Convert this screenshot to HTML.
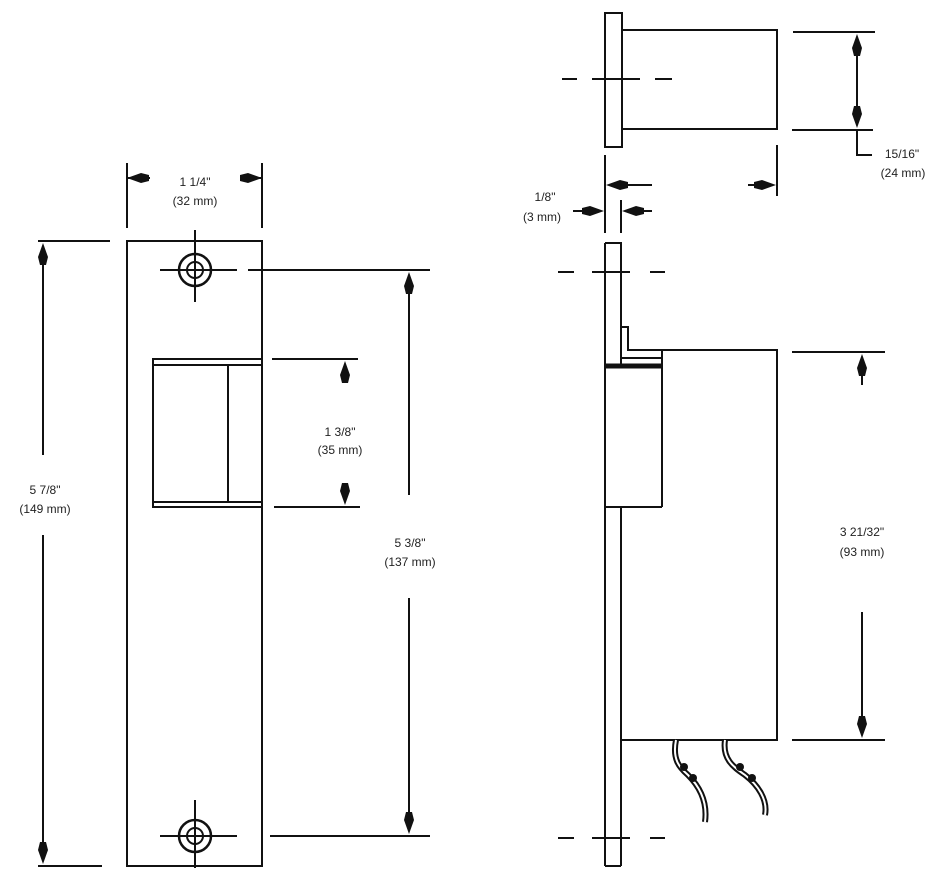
<!DOCTYPE html>
<html><head><style>body{margin:0;background:#fff}svg{display:block}text{font-family:"Liberation Sans",sans-serif;font-size:12px;fill:#222;text-anchor:middle}</style></head>
<body>
<svg width="932" height="883" viewBox="0 0 932 883" xmlns="http://www.w3.org/2000/svg">
<defs>
<path id="ah" d="M0,0 L-5,14 L-3,22 L3,22 L5,14 Z" fill="#111"/>
</defs>
<g stroke="#111" stroke-width="2" fill="none">
<!-- Left plate -->
<rect x="127" y="241" width="135" height="625"/>
<rect x="153" y="359" width="109" height="148"/>
<line x1="153" y1="365" x2="262" y2="365"/><line x1="153" y1="502" x2="262" y2="502"/>
<line x1="228" y1="365" x2="228" y2="502"/>
<circle cx="195" cy="270" r="16" stroke-width="2.5"/><circle cx="195" cy="270" r="8"/>
<circle cx="195" cy="836" r="16" stroke-width="2.5"/><circle cx="195" cy="836" r="8"/>
<line x1="195" y1="230" x2="195" y2="302"/><line x1="160" y1="270" x2="237" y2="270"/>
<line x1="195" y1="800" x2="195" y2="868"/><line x1="160" y1="836" x2="237" y2="836"/>
<!-- 1 1/4 -->
<line x1="127" y1="163" x2="127" y2="228"/><line x1="262" y1="163" x2="262" y2="228"/>
<line x1="127" y1="178" x2="150" y2="178"/><line x1="240" y1="178" x2="262" y2="178"/>
<!-- 5 7/8 -->
<line x1="38" y1="241" x2="110" y2="241"/><line x1="38" y1="866" x2="102" y2="866"/>
<line x1="43" y1="255" x2="43" y2="455"/>
<line x1="43" y1="535" x2="43" y2="850"/>
<!-- 1 3/8 -->
<line x1="272" y1="359" x2="358" y2="359"/><line x1="274" y1="507" x2="360" y2="507"/>
<!-- 5 3/8 -->
<line x1="248" y1="270" x2="430" y2="270"/><line x1="270" y1="836" x2="430" y2="836"/>
<line x1="409" y1="285" x2="409" y2="495"/>
<line x1="409" y1="598" x2="409" y2="820"/>
<!-- Right top pin -->
<rect x="605" y="13" width="17" height="134"/>
<rect x="622" y="30" width="155" height="99"/>
<line x1="562" y1="79" x2="577" y2="79"/><line x1="592" y1="79" x2="640" y2="79"/><line x1="655" y1="79" x2="672" y2="79"/>
<!-- 15/16 -->
<line x1="793" y1="32" x2="875" y2="32"/><line x1="792" y1="130" x2="873" y2="130"/>
<line x1="857" y1="40" x2="857" y2="122"/>
<polyline points="857,130 857,155 872,155"/>
<!-- 1/8 -->
<line x1="605" y1="155" x2="605" y2="233"/><line x1="621" y1="200" x2="621" y2="233"/>
<line x1="777" y1="145" x2="777" y2="196"/>
<line x1="620" y1="185" x2="652" y2="185"/>
<line x1="748" y1="185" x2="760" y2="185"/>
<line x1="573" y1="211" x2="590" y2="211"/>
<line x1="636" y1="211" x2="652" y2="211"/>
<!-- Lower side view -->
<line x1="605" y1="243" x2="605" y2="866"/>
<polyline points="605,243 621,243 621,365"/>
<line x1="621" y1="507" x2="621" y2="866"/>
<line x1="605" y1="866" x2="621" y2="866"/>
<line x1="558" y1="272" x2="574" y2="272"/><line x1="592" y1="272" x2="630" y2="272"/><line x1="650" y1="272" x2="665" y2="272"/>
<line x1="558" y1="838" x2="574" y2="838"/><line x1="592" y1="838" x2="630" y2="838"/><line x1="650" y1="838" x2="665" y2="838"/>
<polyline points="621,327 628,327 628,350 662,350"/>
<polyline points="662,350 777,350 777,740 621,740"/>
<line x1="662" y1="350" x2="662" y2="507"/>
<line x1="605" y1="366" x2="662" y2="366" stroke-width="5"/>
<line x1="621" y1="358" x2="662" y2="358"/>
<line x1="605" y1="507" x2="662" y2="507"/>
<!-- 3 21/32 -->
<line x1="792" y1="352" x2="885" y2="352"/><line x1="792" y1="740" x2="885" y2="740"/>
<line x1="862" y1="370" x2="862" y2="385"/>
<line x1="862" y1="612" x2="862" y2="725"/>
<!-- wires -->
<path d="M676,740 C672,760 680,768 688,775 C698,785 708,800 705,822" stroke-width="6"/>
<path d="M676,740 C672,760 680,768 688,775 C698,785 708,800 705,822" stroke="#fff" stroke-width="2"/>
<path d="M725,740 C722,760 735,768 745,775 C758,785 768,800 765,815" stroke-width="6"/>
<path d="M725,740 C722,760 735,768 745,775 C758,785 768,800 765,815" stroke="#fff" stroke-width="2"/>
</g>
<g fill="#111">
<circle cx="684" cy="767" r="4"/><circle cx="693" cy="778" r="4"/>
<circle cx="740" cy="767" r="4"/><circle cx="752" cy="778" r="4"/>
</g>
<!-- arrowheads: use rotated tip-at-origin shape, pointing up by default (tip at 0, body downward) -->
<use href="#ah" transform="translate(127,178) rotate(-90)"/>
<use href="#ah" transform="translate(262,178) rotate(90)"/>
<use href="#ah" transform="translate(43,243)"/>
<use href="#ah" transform="translate(43,864) rotate(180)"/>
<use href="#ah" transform="translate(345,361)"/>
<use href="#ah" transform="translate(345,505) rotate(180)"/>
<use href="#ah" transform="translate(409,272)"/>
<use href="#ah" transform="translate(409,834) rotate(180)"/>
<use href="#ah" transform="translate(857,34)"/>
<use href="#ah" transform="translate(857,128) rotate(180)"/>
<use href="#ah" transform="translate(606,185) rotate(-90)"/>
<use href="#ah" transform="translate(776,185) rotate(90)"/>
<use href="#ah" transform="translate(604,211) rotate(90)"/>
<use href="#ah" transform="translate(622,211) rotate(-90)"/>
<use href="#ah" transform="translate(862,354)"/>
<use href="#ah" transform="translate(862,738) rotate(180)"/>
<text x="195" y="186">1 1/4"</text><text x="195" y="205">(32 mm)</text>
<text x="45" y="494">5 7/8"</text><text x="45" y="503" dy="10">(149 mm)</text>
<text x="340" y="436">1 3/8"</text><text x="340" y="454">(35 mm)</text>
<text x="410" y="547">5 3/8"</text><text x="410" y="566">(137 mm)</text>
<text x="902" y="158">15/16"</text><text x="903" y="177">(24 mm)</text>
<text x="545" y="201">1/8"</text><text x="542" y="221">(3 mm)</text>
<text x="862" y="536">3 21/32"</text><text x="862" y="556">(93 mm)</text>
</svg>
</body></html>
